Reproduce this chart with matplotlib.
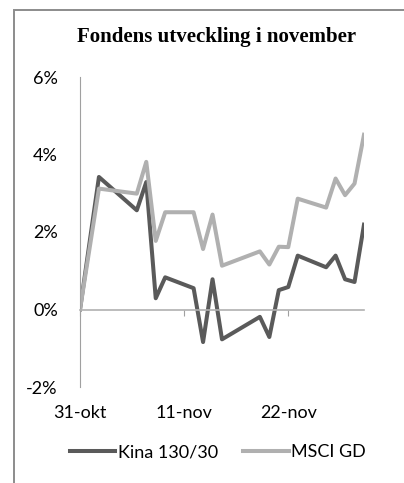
import matplotlib
matplotlib.use("Agg")
import matplotlib.pyplot as plt
import pandas as pd
from matplotlib.patches import Rectangle

# data (cumulative return, %)
dates = pd.to_datetime([
    "2012-10-31", "2012-11-02", "2012-11-06", "2012-11-07", "2012-11-08",
    "2012-11-09", "2012-11-12", "2012-11-13", "2012-11-14", "2012-11-15",
    "2012-11-19", "2012-11-20", "2012-11-21", "2012-11-22", "2012-11-23",
    "2012-11-26", "2012-11-27", "2012-11-28", "2012-11-29", "2012-11-30",
])
kina = [0.0, 3.42, 2.56, 3.29, 0.29, 0.83, 0.55, -0.84, 0.78, -0.77,
        -0.19, -0.71, 0.50, 0.58, 1.39, 1.09, 1.39, 0.78, 0.71, 2.19]
msci = [0.0, 3.12, 2.99, 3.81, 1.77, 2.51, 2.51, 1.56, 2.45, 1.13,
        1.50, 1.16, 1.62, 1.61, 2.86, 2.63, 3.38, 2.95, 3.25, 4.51]

tick_dates = pd.to_datetime(["2012-10-31", "2012-11-11", "2012-11-22"])
tick_labels = ["31-okt", "11-nov", "22-nov"]
y_ticks = [-2, 0, 2, 4, 6]

fig = plt.figure(figsize=(4.04, 4.83), dpi=100)
fig.patches.append(Rectangle((14 / 404, -0.1), 1.2, 1 - 10 / 483 + 0.1,
                             transform=fig.transFigure, fill=False,
                             edgecolor="#8c8c8c", linewidth=1.4))

ax = fig.add_axes([80 / 404, 96 / 483, 284 / 404, 310 / 483])
ax.plot(dates, kina, color="#5a5a5a", lw=2.9, label="Kina 130/30")
ax.plot(dates, msci, color="#b0b0b0", lw=2.9, label="MSCI GD")

ax.set_ylim(-2, 6)
ax.set_xlim(dates[0], dates[-1])
ax.set_yticks(y_ticks)
ax.set_yticklabels([f"{v}%" for v in y_ticks], family="Lato", fontsize=13)
ax.tick_params(axis="y", length=0, pad=16)

ax.spines[["top", "right"]].set_visible(False)
ax.spines["left"].set_color("#a0a0a0")
ax.spines["bottom"].set_position(("data", 0))
ax.spines["bottom"].set_color("#b0b0b0")
ax.spines["bottom"].set_linewidth(1.2)
ax.set_xticks(tick_dates)
ax.set_xticklabels(tick_labels, family="Lato", fontsize=13)
ax.tick_params(axis="x", length=4, color="#a0a0a0", pad=65)

fig.text(0.536, 1 - 37 / 483, "Fondens utveckling i november", ha="center",
         va="center", family="Liberation Serif", fontweight="bold", fontsize=15)

leg = fig.legend(loc="center", bbox_to_anchor=(0.54, 1 - 452 / 483), ncol=2,
                 frameon=False, prop={"family": "Lato", "size": 13},
                 handlelength=2.5, handletextpad=0.15, columnspacing=1.4)

fig.savefig("out.png", dpi=100)
